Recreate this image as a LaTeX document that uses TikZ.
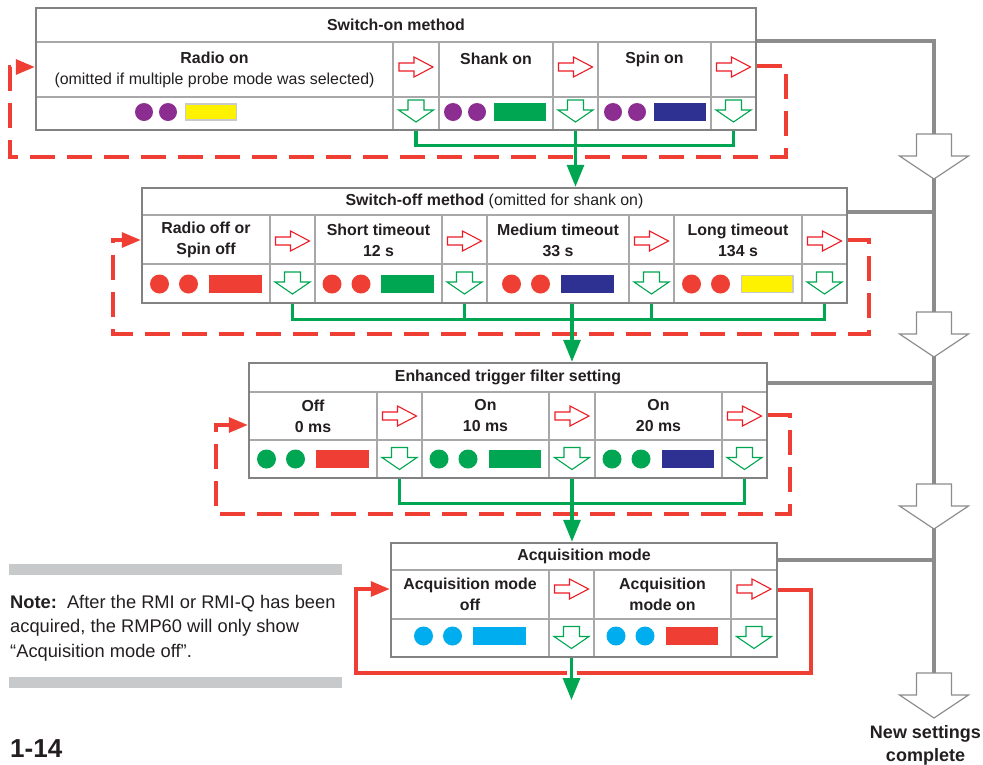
\documentclass[tikz,border=0pt]{standalone}
\usepackage{fontspec}
\setmainfont{Liberation Sans}
\usetikzlibrary{arrows.meta}

\definecolor{inktext}{RGB}{35,31,32}
\definecolor{lampred}{RGB}{239,62,51}
\definecolor{arrowred}{RGB}{237,28,36}
\definecolor{lampgreen}{RGB}{0,166,81}
\definecolor{lamppurple}{RGB}{139,45,145}
\definecolor{lampblue}{RGB}{46,49,146}
\definecolor{lampyellow}{RGB}{255,242,0}
\definecolor{lampcyan}{RGB}{0,174,239}
\definecolor{linegrey}{RGB}{140,140,140}
\definecolor{framegrey}{RGB}{130,130,130}
\definecolor{cellgrey}{RGB}{168,168,168}
\definecolor{bargrey}{RGB}{200,201,203}

\tikzset{
	frame/.style={draw=framegrey, line width=2.5pt, inner sep=0pt},
	divider/.style={draw=cellgrey, line width=1.4pt},
	title/.style={font=\fontsize{15.9}{21}\selectfont\bfseries, text=inktext, inner sep=0pt},
	cell/.style={font=\fontsize{15.9}{21}\selectfont\bfseries, text=inktext, align=center, inner sep=0pt},
	note/.style={font=\fontsize{18.3}{24.5}\selectfont, text=inktext, align=left, anchor=north west, inner sep=0pt},
	greyline/.style={draw=linegrey, line width=4pt},
	greenline/.style={draw=lampgreen, line width=3.2pt},
	drop/.style={greenline, -{Triangle[length=22pt,width=17pt]}},
	loopline/.style={draw=lampred, line width=3.2pt, -{Triangle[length=19pt,width=15pt]}},
	loopdash/.style={dash pattern=on 25pt off 12pt},
	redarr/.pic={\draw[draw=arrowred, fill=white, line width=1.1pt] (-17,-4) -- (-2,-4) -- (-2,-10) -- (17,0) -- (-2,10) -- (-2,4) -- (-17,4) -- cycle;},
	greenarr/.pic={\draw[draw=lampgreen, fill=white, line width=1.1pt] (-8,-11) -- (8,-11) -- (8,-1) -- (17.5,-1) -- (0,11) -- (-17.5,-1) -- (-8,-1) -- cycle;},
	bigarr/.pic={\draw[draw=linegrey, fill=white, line width=1.2pt] (-17.5,0) -- (17.5,0) -- (17.5,22) -- (34.5,22) -- (0,45) -- (-34.5,22) -- (-17.5,22) -- cycle;}
}

\begin{document}
\begin{tikzpicture}[x=1pt, y=-1pt]
\useasboundingbox (0,0) rectangle (983,764);

\draw[divider] (36,42) -- (756,42);
\draw[divider] (36,97) -- (756,97);
\foreach \x in {393,439,553,598,711}
\draw[divider] (\x,42) -- (\x,130);
\node[frame, minimum width=720pt, minimum height=122pt] (b1) at (396,69) {};
\node[title] (t1) at (396,25) {Switch-on method};
\node[cell] (c11) at (214.5,69.5) {Radio on\\\textmd{(omitted if multiple probe mode was selected)}};
\node[cell] (c12) at (496,59) {Shank on};
\node[cell] (c13) at (654.5,59) {Spin on};
\foreach \x in {416,575.5,733.5}
{\pic at (\x,67) {redarr}; \pic at (\x,111) {greenarr};}
\foreach \cx/\rcol/\rline in {186/lampyellow/bargrey, 495/lampgreen/lampgreen, 655/lampblue/lampblue}
{\fill[lamppurple] (\cx-42,112) circle (9pt) (\cx-18,112) circle (9pt);
 \draw[fill=\rcol, draw=\rline, line width=1.5pt] (\cx-0.5,104) rectangle (\cx+50.5,120);}

\draw[divider] (142,215) -- (847,215);
\draw[divider] (142,264) -- (847,264);
\foreach \x in {270,315,442,487,629,674,802}
\draw[divider] (\x,215) -- (\x,303);
\node[frame, minimum width=705pt, minimum height=115pt] (b2) at (494.5,245.5) {};
\node[title] (t2) at (494.5,201.5) {Switch-off method \textmd{(omitted for shank on)}};
\node[cell] (c21) at (206,240) {Radio off or\\Spin off};
\node[cell] (c22) at (378.5,240) {Short timeout\\12 s};
\node[cell] (c23) at (558,240) {Medium timeout\\33 s};
\node[cell] (c24) at (738,240) {Long timeout\\134 s};
\foreach \x in {292.5,464.5,651.5,824.5}
{\pic at (\x,241) {redarr}; \pic at (\x,283) {greenarr};}
\foreach \cx/\rcol/\rline in {206/lampred/lampred, 378.5/lampgreen/lampgreen, 558/lampblue/lampblue, 738/lampyellow/bargrey}
{\fill[lampred] (\cx-46.5,284) circle (9.5pt) (\cx-17.5,284) circle (9.5pt);
 \draw[fill=\rcol, draw=\rline, line width=1.5pt] (\cx+3.5,275.5) rectangle (\cx+55,292.5);}

\draw[divider] (249,392) -- (767,392);
\draw[divider] (249,440) -- (767,440);
\foreach \x in {377,422,549,595,722}
\draw[divider] (\x,392) -- (\x,478);
\node[frame, minimum width=518pt, minimum height=115pt] (b3) at (508,420.5) {};
\node[title] (t3) at (508,377.5) {Enhanced trigger filter setting};
\node[cell] (c31) at (313,416) {Off\\0 ms};
\node[cell] (c32) at (485.5,416) {On\\10 ms};
\node[cell] (c33) at (658.5,416) {On\\20 ms};
\foreach \x in {399.5,572,744.5}
{\pic at (\x,416) {redarr}; \pic at (\x,458.5) {greenarr};}
\foreach \cx/\rcol in {313/lampred, 485.5/lampgreen, 658.5/lampblue}
{\fill[lampgreen] (\cx-46.5,459) circle (9.5pt) (\cx-17.5,459) circle (9.5pt);
 \fill[\rcol] (\cx+3,450) rectangle (\cx+55.5,468);}

\draw[divider] (391,570) -- (777,570);
\draw[divider] (391,619) -- (777,619);
\foreach \x in {549,594,731}
\draw[divider] (\x,570) -- (\x,657);
\node[frame, minimum width=386pt, minimum height=114pt] (b4) at (584,600) {};
\node[title] (t4) at (584,556.5) {Acquisition mode};
\node[cell] (c41) at (470,594.5) {Acquisition mode\\off};
\node[cell] (c42) at (662.5,594.5) {Acquisition\\mode on};
\foreach \x in {571.5,754}
{\pic at (\x,589) {redarr}; \pic at (\x,637.5) {greenarr};}
\foreach \cx/\rcol in {470/lampcyan, 662.5/lampred}
{\fill[lampcyan] (\cx-46.5,636) circle (9.5pt) (\cx-17.5,636) circle (9.5pt);
 \fill[\rcol] (\cx+3,627) rectangle (\cx+55.5,645);}

\draw[loopline, loopdash] (b1.east |- 0,66) -| (786,157) -| (10,67) -- (b1.west |- 0,67);
\draw[loopline, loopdash] (b2.east |- 0,240) -| (869,334) -| (113,240) -- (b2.west |- 0,240);
\draw[loopline, loopdash] (b3.east |- 0,415) -| (790,514) -| (216,425) -- (b3.west |- 0,425);
\draw[loopline] (b4.east |- 0,590) -| (811,673) -| (356,589) -- (b4.west |- 0,589);

\draw[greenline] (b1.south -| 416,0) -- ++(0,14) -| (b1.south -| 733.5,0);
\draw[drop] (b1.south -| 575.5,0) -- (b2.north -| 575.5,0);
\draw[greenline] (b2.south -| 292.5,0) -- ++(0,15) -| (b2.south -| 824.5,0);
\foreach \x in {464.5,651.5}
\draw[greenline] (b2.south -| \x,0) -- ++(0,15);
\draw[drop] (b2.south -| 572,0) -- (b3.north -| 572,0);
\draw[greenline] (b3.south -| 399.5,0) -- ++(0,24) -| (b3.south -| 744.5,0);
\draw[drop] (b3.south -| 572,0) -- (b4.north -| 572,0);
\coordinate (out) at (571.5,700);
\draw[white, line width=10pt] (b4.south -| 571.5,0) ++(0,9) -- ++(0,26);
\draw[drop] (b4.south -| 571.5,0) -- (out);

\coordinate (h1) at (934,134);
\coordinate (h2) at (934,312);
\coordinate (h3) at (934,484);
\coordinate (h4) at (934,673);
\draw[greyline] (b1.east |- 0,41) -| (h4);
\foreach \b/\y in {b2/212, b3/383, b4/560}
\draw[greyline] (\b.east |- 0,\y) -- (h4 |- 0,\y);
\foreach \h in {h1,h2,h3,h4}
\pic at (\h) {bigarr};
\node[cell, font=\fontsize{18}{23}\selectfont\bfseries, anchor=north] (done) at (925.5,725) {New settings\\complete};

\fill[bargrey] (9,564) rectangle (342,575);
\fill[bargrey] (9,677) rectangle (342,688);
\node[note] (remark) at (10,595) {\textbf{Note:}\hspace{0.55em}After the RMI or RMI-Q has been\\acquired, the RMP60 will only show\\“Acquisition mode off”.};
\node[font=\fontsize{26}{30}\selectfont\bfseries, text=inktext, anchor=base west, inner sep=0pt] (page) at (10,757) {1-14};

\end{tikzpicture}
\end{document}
